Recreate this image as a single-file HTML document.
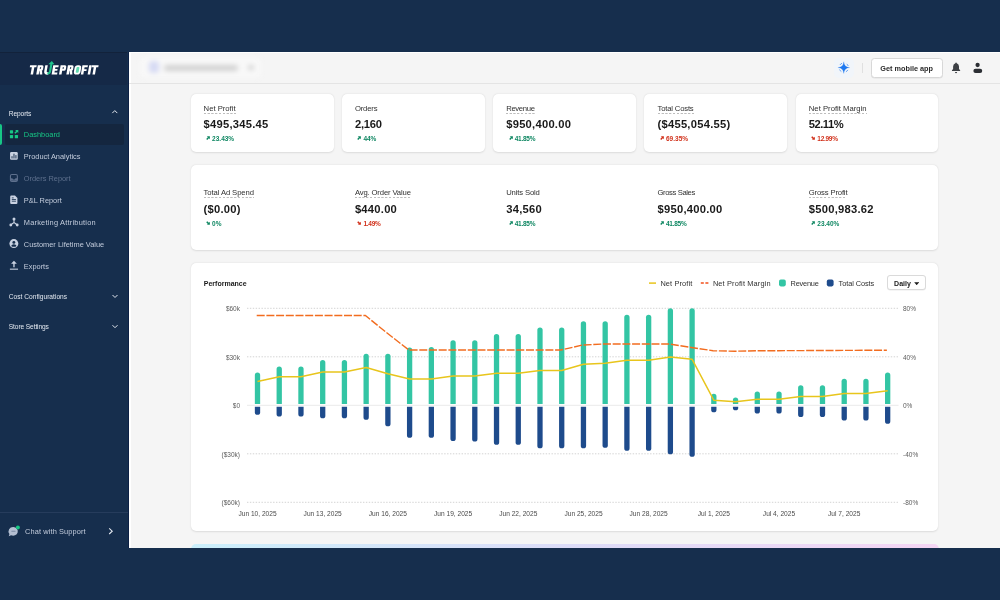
<!DOCTYPE html>
<html><head><meta charset="utf-8"><title>Dashboard</title>
<style>
*{box-sizing:border-box;margin:0;padding:0}
html,body{width:1000px;height:600px;overflow:hidden}
body{background:#162e4d;font-family:"Liberation Sans",sans-serif;position:relative;color:#1a1a1a}
div,span,svg{position:absolute}
.main{left:128.7px;top:51.8px;width:872px;height:496.2px;background:#f5f5f5;border-left:2.2px solid #fff;border-top:1.6px solid #fff;overflow:hidden}
.topline{left:129px;top:83px;width:871px;height:1px;background:#e4e4e4}
.side{left:0;top:52px;width:128.7px;height:496px;background:#162e4d;border-right:1.6px solid #0c2045}
.logo{left:0;top:52px;width:127.1px;height:33px;background:#152947;border-top:1.5px solid #12223b}
.card{background:#fff;border-radius:5px;box-shadow:0 0.5px 2px rgba(0,0,0,.10),0 0 1px rgba(0,0,0,.06)}
.lb{font-size:7.7px;line-height:9px;color:#303030;white-space:nowrap;letter-spacing:0}
.lb.ul{padding-bottom:1.1px;background:repeating-linear-gradient(90deg,#bdbdbd 0,#bdbdbd 1.7px,rgba(189,189,189,0) 2.3px,rgba(189,189,189,0) 3.3px,#bdbdbd 3.8px) left bottom/100% 1px no-repeat}
.val{font-size:11.2px;line-height:12px;font-weight:bold;color:#1a1a1a;white-space:nowrap;letter-spacing:0.25px}
.dl{font-size:6.5px;line-height:8px;font-weight:bold;white-space:nowrap;width:60px;height:8px}
.dl span{left:6px;top:0}
.dl svg{left:0;top:1.3px;width:4.2px;height:4.2px}
.g{color:#0f8762}.g svg{fill:#0f8762}
.r{color:#d1301a}.r svg{fill:#d1301a}
.mi{left:23.8px;font-size:7.4px;line-height:10px;color:#c3ccdc;white-space:nowrap}
.mh{left:8.8px;font-size:6.6px;line-height:9px;color:#e3e8f0;white-space:nowrap;letter-spacing:-0.1px}
.yl{left:190px;width:50px;text-align:right;font-size:6.5px;line-height:8px;color:#5c5c5c}
.yr{left:903px;font-size:6.5px;line-height:8px;color:#5c5c5c}
.xl{width:60px;text-align:center;top:509.6px;font-size:6.6px;line-height:8px;color:#4a4a4a;white-space:nowrap}
.lg{top:278.6px;font-size:7.4px;line-height:9px;color:#303030;white-space:nowrap}
#root{left:0;top:0;width:1000px;height:600px;will-change:transform}
</style></head><body><div id="root">
<div class="side"></div>
<div class="logo"></div>
<!-- logo text -->
<svg style="left:0;top:52px;width:128px;height:33px" viewBox="0 52 128 33"><g transform="translate(0 74.5) skewX(-10)"><path d="M28.50 -9.30h6.60v2.00h-6.60zM30.55 -9.30h2.50v9.30h-2.50zM36.20 -9.30h4.30q1.6 0 1.6 1.6v2.40q0 1.6 -1.6 1.6h-4.30zM38.70 -7.30v1.60h1.20v-1.60zM36.20 -3.80h2.50v3.80h-2.50zM38.80 -4.30h2.50l1.00 4.30h-2.50zM51.60 -9.30h2.50v9.30h-2.50zM51.60 -9.30h5.50v2.00h-5.50zM51.60 -5.55h5.00v1.80h-5.00zM51.60 -2.00h5.50v2.00h-5.50zM59.00 -9.30h4.30q1.6 0 1.6 1.6v2.40q0 1.6 -1.6 1.6h-4.30zM61.50 -7.30v1.60h1.20v-1.60zM59.00 -3.80h2.50v3.80h-2.50zM66.30 -9.30h4.30q1.6 0 1.6 1.6v2.40q0 1.6 -1.6 1.6h-4.30zM68.80 -7.30v1.60h1.20v-1.60zM66.30 -3.80h2.50v3.80h-2.50zM68.90 -4.30h2.50l1.00 4.30h-2.50zM80.80 -9.30h2.50v9.30h-2.50zM80.80 -9.30h5.50v2.00h-5.50zM80.80 -5.35h5.00v1.80h-5.00zM87.60 -9.30h2.50v9.30h-2.50zM90.40 -9.30h6.60v2.00h-6.60zM92.45 -9.30h2.50v9.30h-2.50z" fill="#fff" fill-rule="nonzero"/><path d="M44.9 -9.3V-3.2Q44.9 -1.1 47.2 -1.1H48.2" fill="none" stroke="#fff" stroke-width="2.5"/><path d="M47.2 0.0 Q50.6 0.2 50.6 -3 V-10.5 H48.5 V-3 Q48.5 -1.9 47.2 -1.9z" fill="#1fc48d"/><path d="M46.6 -10.2 L49.4 -13.6 L52.6 -10.2z" fill="#1fc48d"/><rect x="73.4" y="-9.3" width="6.6" height="9.3" rx="2.8" fill="#fff"/><rect x="75.3" y="-7.5" width="2.9" height="5.7" rx="0.9" fill="#62d9b0"/></g></svg>

<!-- sidebar -->
<div class="mh" style="top:108.8px">Reports</div>
<div style="left:5px;top:123.5px;width:119px;height:21px;background:#14263f;border-radius:2px"></div>
<div style="left:0;top:123.5px;width:2.2px;height:21.5px;background:#17c685;border-radius:0 2px 2px 0"></div>
<div class="mi" style="top:130.3px;color:#17c685">Dashboard</div>

<div class="mi" style="top:152.3px">Product Analytics</div>

<div class="mi" style="top:174.3px;color:#5e708d">Orders Report</div>

<div class="mi" style="top:196.3px">P&amp;L Report</div>

<div class="mi" style="top:218.3px;letter-spacing:0.22px">Marketing Attribution</div>

<div class="mi" style="top:240.3px">Customer Lifetime Value</div>

<div class="mi" style="top:262.3px">Exports</div>

<div class="mh" style="top:291.9px;letter-spacing:0.020px">Cost Configurations</div>
<div class="mh" style="top:321.9px">Store Settings</div>

<div style="left:0;top:512px;width:128px;height:1px;background:#263c5c"></div>
<div class="mi" style="left:25px;top:527.3px;letter-spacing:0.120px">Chat with Support</div>
<svg style="left:0;top:0;width:128px;height:600px" viewBox="0 0 128 600">
<g transform="translate(111.30 108.90) scale(1.000 1.000)" ><path d="M1 4.2 L3.5 1.7 L6 4.2" fill="none" stroke="#e3e8f0" stroke-width="1"/></g>
<g transform="translate(9.90 129.90) scale(0.944 0.944)" fill="#17c685"><rect x="0" y="0.300" width="3.400" height="3.400" rx="0.600"/><rect x="0" y="5.400" width="3.400" height="3.400" rx="0.600"/><rect x="5.200" y="5.400" width="3.400" height="3.400" rx="0.600"/><path d="M5.500 0h3.400v3.400L7.800 2.300 5.900 4.200 4.700 3 6.600 1.100z"/></g>
<g transform="translate(9.90 151.90) scale(0.911 0.911)" ><rect x="0.2" y="0.2" width="8.4" height="8.4" rx="1.3" fill="#c9d2e2"/><rect x="1.800" y="4.700" width="1.050" height="2.500" fill="#162e4d"/><rect x="3.950" y="2" width="1.050" height="5.200" fill="#162e4d"/><rect x="6.100" y="3.500" width="1.050" height="3.700" fill="#162e4d"/></g>
<g transform="translate(9.90 174.00) scale(0.911 0.911)" ><rect x="0.6" y="0.6" width="7.6" height="7.6" rx="1.5" fill="none" stroke="#5e708d" stroke-width="1.2"/><path d="M0.6 4.800h2.100q0.400 1.300 1.700 1.300t1.700 -1.300h2.100v2.700h-7.600z" fill="#5e708d"/></g>
<g transform="translate(10.20 195.60) scale(0.938 0.904)" ><path d="M1.200 0h3.900l2.600 2.600v5.600q0 1.200 -1.200 1.200h-5.300q-1.200 0 -1.200 -1.200v-7q0 -1.200 1.200 -1.200z" fill="#c9d2e2"/><rect x="1.700" y="3.900" width="4.400" height="0.900" fill="#162e4d"/><rect x="1.700" y="5.700" width="4.400" height="0.900" fill="#162e4d"/><rect x="1.700" y="2.100" width="2" height="0.900" fill="#162e4d"/></g>
<g transform="translate(9.30 217.30) scale(0.940 0.990)" fill="#c9d2e2"><circle cx="5" cy="1.700" r="1.600"/><circle cx="1.600" cy="7.700" r="1.500"/><circle cx="8.400" cy="7.700" r="1.500"/><path d="M5 2v3.400M5 5.200L1.800 7.500M5 5.200L8.200 7.500" stroke="#c9d2e2" stroke-width="1.100" fill="none"/></g>
<g transform="translate(9.30 239.00) scale(0.970 0.970)" ><circle cx="4.700" cy="4.700" r="4.600" fill="#c9d2e2"/><circle cx="4.700" cy="3.500" r="1.500" fill="#162e4d"/><path d="M1.900 7.100q0.600 -1.700 2.800 -1.700t2.800 1.700q-1.200 1 -2.800 1t-2.800 -1z" fill="#162e4d"/></g>
<g transform="translate(9.60 260.70) scale(0.970 0.990)" fill="#c9d2e2"><path d="M4.500 0l3 3h-2.300v3.600h-1.400v-3.600h-2.300z"/><rect x="0.300" y="8" width="8.400" height="1.100"/></g>
<g transform="translate(111.50 293.30) scale(1.000 1.000)" ><path d="M1 1.700 L3.500 4.200 L6 1.700" fill="none" stroke="#e3e8f0" stroke-width="1"/></g>
<g transform="translate(111.50 323.50) scale(1.000 1.000)" ><path d="M1 1.700 L3.500 4.200 L6 1.700" fill="none" stroke="#e3e8f0" stroke-width="1"/></g>
<g transform="translate(8.00 525.30) scale(0.950 0.950)" ><path d="M5.600 1.800a4.900 4.600 0 1 1 -2.400 8.700l-2.400 0.900 0.700 -2.300a4.900 4.600 0 0 1 4.100 -7.300z" fill="#b4bfd2"/><circle cx="10.400" cy="2.400" r="2.100" fill="#17c685"/><rect x="3.400" y="5.800" width="4.600" height="1" rx="0.500" fill="#7b8aa3"/></g>
<g transform="translate(107.20 527.20) scale(1.000 1.000)" ><path d="M2 1.200 L5 4 L2 6.800" fill="none" stroke="#e3e8f0" stroke-width="1.100"/></g>
</svg>

<!-- main -->
<div class="main"></div>
<div class="topline"></div>
<!-- blurred store selector -->
<div style="left:136px;top:53.200px;width:130px;height:28px;filter:blur(2.4px)">
 <div style="left:4px;top:4px;width:121px;height:21px;background:#f8f8f8;border-radius:4px"></div>
 <div style="left:12.500px;top:7.500px;width:10px;height:12px;background:#d6daf4;border-radius:4px"></div>
 <div style="left:28px;top:11.500px;width:74px;height:6px;background:#d2d2d2;border-radius:3px"></div>
 <div style="left:112px;top:12px;width:5.500px;height:5px;background:#d2d2d2;border-radius:2.500px"></div>
</div>
<!-- topbar right -->
<div style="left:834px;top:57.600px;width:20px;height:20.600px;border-radius:5px;background:#f1f5fa"></div>
<svg style="left:837px;top:61px;width:14px;height:14px" viewBox="0 0 14 14"><g transform="translate(0.800 0.600)"><path d="M6 0.100C6.300 3.700 8.300 5.700 11.900 6C8.300 6.300 6.300 8.300 6 11.900C5.700 8.300 3.700 6.300 0.100 6C3.700 5.700 5.700 3.700 6 0.100z" fill="#1e78f0" stroke="#1e78f0" stroke-width="0.150" stroke-linejoin="round"/><circle cx="6" cy="6" r="4.700" fill="none" stroke="#5b9cf3" stroke-width="0.900" stroke-dasharray="2.600 4.783" stroke-dashoffset="-2.390"/></g></svg>
<div style="left:862px;top:63px;width:1px;height:9.600px;background:#e0e0e0"></div>
<div style="left:871.300px;top:58px;width:71.300px;height:19.500px;background:#fff;border:1px solid #d8d8d8;border-radius:3.500px;box-shadow:0 0.500px 0.500px rgba(0,0,0,.08)"></div>
<div style="left:880.300px;top:63.800px;font-size:7.300px;line-height:9px;font-weight:bold;color:#2b2b2b;white-space:nowrap">Get mobile app</div>
<svg style="left:950px;top:60px;width:36px;height:16px" viewBox="950 60 36 16"><path d="M956.050 62.500q0.650 0 0.700 0.750q2.250 0.650 2.250 3.350v2.400l1.150 1.300v0.650h-8.200v-0.650l1.150 -1.300v-2.400q0 -2.700 2.250 -3.350q0.050 -0.750 0.700 -0.750z" fill="#3d4045"/><path d="M955 71.900h2.100q-0.150 1.300 -1.050 1.300t-1.050 -1.300z" fill="#3d4045"/><circle cx="977.600" cy="65" r="2.150" fill="#2c2f34"/><rect x="973.400" y="68.700" width="8.800" height="4.300" rx="2.100" fill="#2c2f34"/></svg>

<!-- cards -->
<div class="card" style="left:191px;top:94px;width:142.5px;height:58px"></div><div class="card" style="left:342.1px;top:94px;width:142.5px;height:58px"></div><div class="card" style="left:493.1px;top:94px;width:142.5px;height:58px"></div><div class="card" style="left:644.4px;top:94px;width:142.5px;height:58px"></div><div class="card" style="left:795.7px;top:94px;width:142.5px;height:58px"></div>
<div class="card" style="left:191px;top:165px;width:747.300px;height:85px"></div>
<div class="card" style="left:191px;top:263px;width:747.300px;height:268.300px"></div>
<div class="lb ul" style="left:203.6px;top:103.9px;letter-spacing:-0.005px">Net Profit</div><div class="val" style="left:203.6px;top:118.0px">$495,345.45</div><div class="dl g" style="left:206.1px;top:135.1px"><svg class="ar" viewBox="0 0 8 8"><path d="M1.6 0.6h5.8v5.8l-1.9-1.9L2.4 7.6 0.4 5.6 3.5 2.5z"/></svg><span style="letter-spacing:0px">23.43%</span></div>
<div class="lb" style="left:354.9px;top:103.9px;letter-spacing:-0.183px">Orders</div><div class="val" style="left:354.9px;top:118.0px;letter-spacing:-0.2px">2,160</div><div class="dl g" style="left:357.4px;top:135.1px"><svg class="ar" viewBox="0 0 8 8"><path d="M1.6 0.6h5.8v5.8l-1.9-1.9L2.4 7.6 0.4 5.6 3.5 2.5z"/></svg><span style="letter-spacing:0px">44%</span></div>
<div class="lb ul" style="left:506.2px;top:103.9px;letter-spacing:-0.34px">Revenue</div><div class="val" style="left:506.2px;top:118.0px">$950,400.00</div><div class="dl g" style="left:508.7px;top:135.1px"><svg class="ar" viewBox="0 0 8 8"><path d="M1.6 0.6h5.8v5.8l-1.9-1.9L2.4 7.6 0.4 5.6 3.5 2.5z"/></svg><span style="letter-spacing:-0.26px">41.85%</span></div>
<div class="lb ul" style="left:657.5px;top:103.9px;letter-spacing:-0.185px">Total Costs</div><div class="val" style="left:657.5px;top:118.0px">($455,054.55)</div><div class="dl r" style="left:660.0px;top:135.1px"><svg class="ar" viewBox="0 0 8 8"><path d="M1.6 0.6h5.8v5.8l-1.9-1.9L2.4 7.6 0.4 5.6 3.5 2.5z"/></svg><span style="letter-spacing:0px">69.35%</span></div>
<div class="lb ul" style="left:808.8px;top:103.9px;letter-spacing:0.007px">Net Profit Margin</div><div class="val" style="left:808.8px;top:118.0px;letter-spacing:-0.5px">52.11%</div><div class="dl r" style="left:811.3px;top:135.1px"><svg class="ar" viewBox="0 0 8 8"><path d="M1.6 7.400h5.800V1.600L5.500 3.500 2.400 0.400 0.400 2.400 3.500 5.500z"/></svg><span style="letter-spacing:-0.28px">12.99%</span></div>
<div class="lb ul" style="left:203.6px;top:188.4px;letter-spacing:-0.108px">Total Ad Spend</div><div class="val" style="left:203.6px;top:202.5px">($0.00)</div><div class="dl g" style="left:206.1px;top:219.6px"><svg class="ar" viewBox="0 0 8 8"><path d="M1.6 7.400h5.800V1.600L5.500 3.500 2.400 0.400 0.400 2.400 3.500 5.500z"/></svg><span style="letter-spacing:0px">0%</span></div>
<div class="lb ul" style="left:354.9px;top:188.4px;letter-spacing:-0.148px">Avg. Order Value</div><div class="val" style="left:354.9px;top:202.5px">$440.00</div><div class="dl r" style="left:357.4px;top:219.6px"><svg class="ar" viewBox="0 0 8 8"><path d="M1.6 7.400h5.800V1.600L5.500 3.500 2.400 0.400 0.400 2.400 3.500 5.500z"/></svg><span style="letter-spacing:-0.25px">1.49%</span></div>
<div class="lb" style="left:506.2px;top:188.4px;letter-spacing:-0.155px">Units Sold</div><div class="val" style="left:506.2px;top:202.5px">34,560</div><div class="dl g" style="left:508.7px;top:219.6px"><svg class="ar" viewBox="0 0 8 8"><path d="M1.6 0.6h5.8v5.8l-1.9-1.9L2.4 7.6 0.4 5.6 3.5 2.5z"/></svg><span style="letter-spacing:-0.26px">41.85%</span></div>
<div class="lb" style="left:657.5px;top:188.4px;letter-spacing:-0.407px">Gross Sales</div><div class="val" style="left:657.5px;top:202.5px">$950,400.00</div><div class="dl g" style="left:660.0px;top:219.6px"><svg class="ar" viewBox="0 0 8 8"><path d="M1.6 0.6h5.8v5.8l-1.9-1.9L2.4 7.6 0.4 5.6 3.5 2.5z"/></svg><span style="letter-spacing:-0.26px">41.85%</span></div>
<div class="lb ul" style="left:808.8px;top:188.4px;letter-spacing:-0.166px">Gross Profit</div><div class="val" style="left:808.8px;top:202.5px">$500,983.62</div><div class="dl g" style="left:811.3px;top:219.6px"><svg class="ar" viewBox="0 0 8 8"><path d="M1.6 0.6h5.8v5.8l-1.9-1.9L2.4 7.6 0.4 5.6 3.5 2.5z"/></svg><span style="letter-spacing:0px">23.40%</span></div>
<!-- banner -->
<div style="left:191px;top:543.600px;width:747.500px;height:10px;border-radius:5px 5px 0 0;background:linear-gradient(90deg,#cbeffb,#dcdcf8 50%,#f5d6f4)"></div>
<div style="left:0;top:548px;width:1000px;height:52px;background:#162e4d"></div>

<!-- chart -->
<div style="left:203.800px;top:278.800px;font-size:7px;line-height:9px;font-weight:bold;color:#1a1a1a;white-space:nowrap">Performance</div>
<svg style="left:0;top:0;width:1000px;height:600px" viewBox="0 0 1000 600">
<line x1="247" x2="898.5" y1="308.3" y2="308.3" stroke="#cecece" stroke-width="0.9" stroke-dasharray="1.4 1.5"/>
<line x1="247" x2="898.5" y1="356.8" y2="356.8" stroke="#cecece" stroke-width="0.9" stroke-dasharray="1.4 1.5"/>
<line x1="247" x2="898.5" y1="405.3" y2="405.3" stroke="#e8e8e8" stroke-width="0.9"/>
<line x1="247" x2="898.5" y1="453.8" y2="453.8" stroke="#cecece" stroke-width="0.9" stroke-dasharray="1.4 1.5"/>
<line x1="247" x2="898.5" y1="502.3" y2="502.3" stroke="#cecece" stroke-width="0.9" stroke-dasharray="1.4 1.5"/>
<path d="M254.85 403.9V375.05a2.65 2.65 0 0 1 5.3 0V403.9z" fill="#33c5a4"/>
<path d="M254.85 406.7V412.15a2.65 2.65 0 0 0 5.3 0V406.7z" fill="#1e4b8c"/>
<path d="M276.58 403.9V369.05a2.65 2.65 0 0 1 5.3 0V403.9z" fill="#33c5a4"/>
<path d="M276.58 406.7V413.90a2.65 2.65 0 0 0 5.3 0V406.7z" fill="#1e4b8c"/>
<path d="M298.31 403.9V369.05a2.65 2.65 0 0 1 5.3 0V403.9z" fill="#33c5a4"/>
<path d="M298.31 406.7V413.90a2.65 2.65 0 0 0 5.3 0V406.7z" fill="#1e4b8c"/>
<path d="M320.04 403.9V362.55a2.65 2.65 0 0 1 5.3 0V403.9z" fill="#33c5a4"/>
<path d="M320.04 406.7V415.65a2.65 2.65 0 0 0 5.3 0V406.7z" fill="#1e4b8c"/>
<path d="M341.77 403.9V362.55a2.65 2.65 0 0 1 5.3 0V403.9z" fill="#33c5a4"/>
<path d="M341.77 406.7V415.65a2.65 2.65 0 0 0 5.3 0V406.7z" fill="#1e4b8c"/>
<path d="M363.50 403.9V356.30a2.65 2.65 0 0 1 5.3 0V403.9z" fill="#33c5a4"/>
<path d="M363.50 406.7V417.15a2.65 2.65 0 0 0 5.3 0V406.7z" fill="#1e4b8c"/>
<path d="M385.23 403.9V356.30a2.65 2.65 0 0 1 5.3 0V403.9z" fill="#33c5a4"/>
<path d="M385.23 406.7V423.65a2.65 2.65 0 0 0 5.3 0V406.7z" fill="#1e4b8c"/>
<path d="M406.96 403.9V350.05a2.65 2.65 0 0 1 5.3 0V403.9z" fill="#33c5a4"/>
<path d="M406.96 406.7V435.15a2.65 2.65 0 0 0 5.3 0V406.7z" fill="#1e4b8c"/>
<path d="M428.69 403.9V349.55a2.65 2.65 0 0 1 5.3 0V403.9z" fill="#33c5a4"/>
<path d="M428.69 406.7V435.15a2.65 2.65 0 0 0 5.3 0V406.7z" fill="#1e4b8c"/>
<path d="M450.42 403.9V342.80a2.65 2.65 0 0 1 5.3 0V403.9z" fill="#33c5a4"/>
<path d="M450.42 406.7V438.40a2.65 2.65 0 0 0 5.3 0V406.7z" fill="#1e4b8c"/>
<path d="M472.15 403.9V342.80a2.65 2.65 0 0 1 5.3 0V403.9z" fill="#33c5a4"/>
<path d="M472.15 406.7V438.90a2.65 2.65 0 0 0 5.3 0V406.7z" fill="#1e4b8c"/>
<path d="M493.88 403.9V336.55a2.65 2.65 0 0 1 5.3 0V403.9z" fill="#33c5a4"/>
<path d="M493.88 406.7V442.15a2.65 2.65 0 0 0 5.3 0V406.7z" fill="#1e4b8c"/>
<path d="M515.61 403.9V336.55a2.65 2.65 0 0 1 5.3 0V403.9z" fill="#33c5a4"/>
<path d="M515.61 406.7V442.15a2.65 2.65 0 0 0 5.3 0V406.7z" fill="#1e4b8c"/>
<path d="M537.34 403.9V330.05a2.65 2.65 0 0 1 5.3 0V403.9z" fill="#33c5a4"/>
<path d="M537.34 406.7V445.65a2.65 2.65 0 0 0 5.3 0V406.7z" fill="#1e4b8c"/>
<path d="M559.07 403.9V330.05a2.65 2.65 0 0 1 5.3 0V403.9z" fill="#33c5a4"/>
<path d="M559.07 406.7V445.65a2.65 2.65 0 0 0 5.3 0V406.7z" fill="#1e4b8c"/>
<path d="M580.80 403.9V323.80a2.65 2.65 0 0 1 5.3 0V403.9z" fill="#33c5a4"/>
<path d="M580.80 406.7V445.65a2.65 2.65 0 0 0 5.3 0V406.7z" fill="#1e4b8c"/>
<path d="M602.53 403.9V323.80a2.65 2.65 0 0 1 5.3 0V403.9z" fill="#33c5a4"/>
<path d="M602.53 406.7V445.15a2.65 2.65 0 0 0 5.3 0V406.7z" fill="#1e4b8c"/>
<path d="M624.26 403.9V317.30a2.65 2.65 0 0 1 5.3 0V403.9z" fill="#33c5a4"/>
<path d="M624.26 406.7V448.15a2.65 2.65 0 0 0 5.3 0V406.7z" fill="#1e4b8c"/>
<path d="M645.99 403.9V317.30a2.65 2.65 0 0 1 5.3 0V403.9z" fill="#33c5a4"/>
<path d="M645.99 406.7V448.15a2.65 2.65 0 0 0 5.3 0V406.7z" fill="#1e4b8c"/>
<path d="M667.72 403.9V310.80a2.65 2.65 0 0 1 5.3 0V403.9z" fill="#33c5a4"/>
<path d="M667.72 406.7V451.65a2.65 2.65 0 0 0 5.3 0V406.7z" fill="#1e4b8c"/>
<path d="M689.45 403.9V310.80a2.65 2.65 0 0 1 5.3 0V403.9z" fill="#33c5a4"/>
<path d="M689.45 406.7V454.15a2.65 2.65 0 0 0 5.3 0V406.7z" fill="#1e4b8c"/>
<path d="M711.18 403.9V396.30a2.65 2.65 0 0 1 5.3 0V403.9z" fill="#33c5a4"/>
<path d="M711.18 406.7V409.65a2.65 2.65 0 0 0 5.3 0V406.7z" fill="#1e4b8c"/>
<path d="M732.91 403.9V400.05a2.65 2.65 0 0 1 5.3 0V403.9z" fill="#33c5a4"/>
<path d="M732.91 406.7V407.65a2.65 2.65 0 0 0 5.3 0V406.7z" fill="#1e4b8c"/>
<path d="M754.64 403.9V394.05a2.65 2.65 0 0 1 5.3 0V403.9z" fill="#33c5a4"/>
<path d="M754.64 406.7V410.90a2.65 2.65 0 0 0 5.3 0V406.7z" fill="#1e4b8c"/>
<path d="M776.37 403.9V394.05a2.65 2.65 0 0 1 5.3 0V403.9z" fill="#33c5a4"/>
<path d="M776.37 406.7V410.90a2.65 2.65 0 0 0 5.3 0V406.7z" fill="#1e4b8c"/>
<path d="M798.10 403.9V387.80a2.65 2.65 0 0 1 5.3 0V403.9z" fill="#33c5a4"/>
<path d="M798.10 406.7V414.40a2.65 2.65 0 0 0 5.3 0V406.7z" fill="#1e4b8c"/>
<path d="M819.83 403.9V387.80a2.65 2.65 0 0 1 5.3 0V403.9z" fill="#33c5a4"/>
<path d="M819.83 406.7V414.40a2.65 2.65 0 0 0 5.3 0V406.7z" fill="#1e4b8c"/>
<path d="M841.56 403.9V381.30a2.65 2.65 0 0 1 5.3 0V403.9z" fill="#33c5a4"/>
<path d="M841.56 406.7V417.90a2.65 2.65 0 0 0 5.3 0V406.7z" fill="#1e4b8c"/>
<path d="M863.29 403.9V381.30a2.65 2.65 0 0 1 5.3 0V403.9z" fill="#33c5a4"/>
<path d="M863.29 406.7V417.90a2.65 2.65 0 0 0 5.3 0V406.7z" fill="#1e4b8c"/>
<path d="M885.02 403.9V375.05a2.65 2.65 0 0 1 5.3 0V403.9z" fill="#33c5a4"/>
<path d="M885.02 406.7V421.15a2.65 2.65 0 0 0 5.3 0V406.7z" fill="#1e4b8c"/>
<polyline points="256.70,315.50 278.43,315.50 300.16,315.50 321.89,315.50 343.62,315.50 365.35,315.50 387.08,333.00 408.81,350.00 430.54,350.00 452.27,350.00 474.00,350.00 495.73,350.00 517.46,350.00 539.19,350.00 560.92,350.00 582.65,345.00 604.38,344.00 626.11,344.00 647.84,344.00 669.57,344.00 691.30,347.50 713.03,350.75 734.76,351.25 756.49,350.75 778.22,350.70 799.95,350.60 821.68,350.50 843.41,350.40 865.14,350.30 886.87,350.25" fill="none" stroke="#f26c1f" stroke-width="1.4" stroke-dasharray="8 1.7"/>
<polyline points="257.50,381.50 279.23,376.75 300.96,376.75 322.69,372.00 344.42,372.00 366.15,367.50 387.88,373.75 409.61,379.00 431.34,379.00 453.07,376.00 474.80,376.00 496.53,373.25 518.26,373.25 539.99,370.50 561.72,370.50 583.45,364.25 605.18,363.25 626.91,360.25 648.64,360.25 670.37,357.00 692.10,359.25 713.83,400.25 735.56,401.75 757.29,399.25 779.02,399.25 800.75,396.50 822.48,396.50 844.21,393.50 865.94,393.50 887.67,390.75" fill="none" stroke="#e8c51c" stroke-width="1.6" stroke-linejoin="round"/>
<line x1="649" x2="656" y1="283.100" y2="283.100" stroke="#e8c51c" stroke-width="1.500"/>
<line x1="700.800" x2="708.400" y1="283" y2="283" stroke="#f2501c" stroke-width="1.500" stroke-dasharray="3 1.600"/>
<rect x="779" y="279.600" width="6.800" height="6.800" rx="1.800" fill="#33c5a4"/>
<rect x="826.800" y="279.600" width="6.800" height="6.800" rx="1.800" fill="#1e4b8c"/>
</svg>
<div class="lg" style="left:660.400px;letter-spacing:0.120px">Net Profit</div>
<div class="lg" style="left:712.900px;letter-spacing:0.140px">Net Profit Margin</div>
<div class="lg" style="left:790.600px;letter-spacing:-0.230px">Revenue</div>
<div class="lg" style="left:838.600px;letter-spacing:-0.100px">Total Costs</div>
<div style="left:887px;top:275.200px;width:38.600px;height:15.200px;background:#fff;border:1px solid #dadada;border-radius:3px;box-shadow:0 0.500px 0.500px rgba(0,0,0,.08)"></div>
<div style="left:894.100px;top:278.800px;font-size:7px;line-height:9px;font-weight:bold;color:#1a1a1a;white-space:nowrap">Daily</div>
<svg style="left:913.800px;top:281.600px;width:5.400px;height:3.400px" viewBox="0 0 5.400 3.400"><path d="M0.200 0.200h5l-2.500 3z" fill="#1a1a1a"/></svg>
<div class="yl" style="top:305.0px">$60k</div>
<div class="yl" style="top:353.5px">$30k</div>
<div class="yl" style="top:402.0px">$0</div>
<div class="yl" style="top:450.5px">($30k)</div>
<div class="yl" style="top:499.0px">($60k)</div>
<div class="yr" style="top:305.0px">80%</div>
<div class="yr" style="top:353.5px">40%</div>
<div class="yr" style="top:402.0px">0%</div>
<div class="yr" style="top:450.5px">-40%</div>
<div class="yr" style="top:499.0px">-80%</div>
<div class="xl" style="left:227.5px">Jun 10, 2025</div>
<div class="xl" style="left:292.7px">Jun 13, 2025</div>
<div class="xl" style="left:357.9px">Jun 16, 2025</div>
<div class="xl" style="left:423.1px">Jun 19, 2025</div>
<div class="xl" style="left:488.3px">Jun 22, 2025</div>
<div class="xl" style="left:553.5px">Jun 25, 2025</div>
<div class="xl" style="left:618.6px">Jun 28, 2025</div>
<div class="xl" style="left:683.8px">Jul 1, 2025</div>
<div class="xl" style="left:749.0px">Jul 4, 2025</div>
<div class="xl" style="left:814.2px">Jul 7, 2025</div>
</div></body></html>
